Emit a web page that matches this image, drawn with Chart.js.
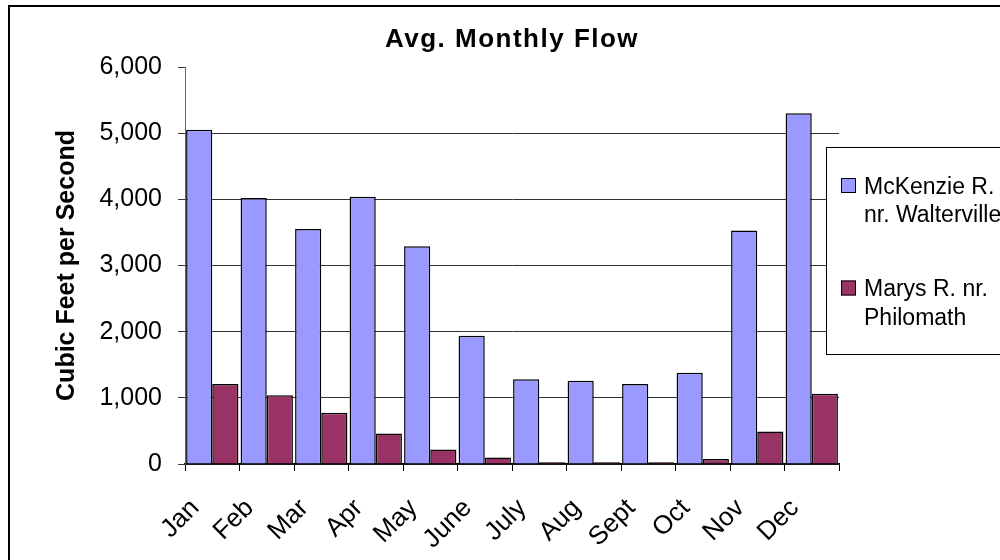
<!DOCTYPE html>
<html>
<head>
<meta charset="utf-8">
<script src="https://cdn.jsdelivr.net/npm/chart.js@4.4.0/dist/chart.umd.min.js"></script>
<style>
  html, body { margin: 0; padding: 0; background: #fff; overflow: hidden; }
  #wrap { width: 1000px; height: 560px; }
</style>
</head>
<body>
<div id="wrap"><canvas id="myChart" width="1000" height="560"></canvas></div>
<script>
// datos
const months = ['Jan', 'Feb', 'Mar', 'Apr', 'May', 'June', 'July', 'Aug', 'Sept', 'Oct', 'Nov', 'Dec'];
const mckenzie = [5050, 4020, 3550, 4040, 3290, 1940, 1280, 1260, 1210, 1380, 3530, 5300];
const marys = [1210, 1040, 775, 460, 220, 100, 25, 25, 25, 75, 490, 1060];
const yMax = 6000;
const yStep = 1000;
const seriesNames = ['McKenzie R. nr. Walterville', 'Marys R. nr. Philomath'];
const legendLines = [['McKenzie R.', 'nr. Walterville'], ['Marys R. nr.', 'Philomath']];
const chartTitle = 'Avg. Monthly Flow';
const yTitle = 'Cubic Feet per Second';

const FONT = '"Liberation Sans", Arial, sans-serif';

// marco, titulo y leyenda dibujados a mano
const framePlugin = {
  id: 'frame',
  afterDraw(chart) {
    const ctx = chart.ctx;
    ctx.save();
    ctx.strokeStyle = '#000';
    ctx.lineWidth = 2;
    ctx.strokeRect(9, 6, 1100, 700);

    ctx.fillStyle = '#000';
    ctx.font = 'bold 26px ' + FONT;
    ctx.letterSpacing = '1.5px';
    ctx.textAlign = 'center';
    ctx.textBaseline = 'alphabetic';
    ctx.fillText(chartTitle, 512, 47);
    ctx.letterSpacing = '0px';

    ctx.fillStyle = '#fff';
    ctx.fillRect(827, 148, 200, 207);
    ctx.lineWidth = 1;
    ctx.strokeStyle = '#000';
    ctx.strokeRect(826.5, 147.5, 200, 207);
    ctx.font = '23px ' + FONT;
    ctx.textAlign = 'left';
    chart.data.datasets.forEach((ds, i) => {
      const y0 = 178 + i * 102.5;
      ctx.fillStyle = ds.backgroundColor;
      ctx.fillRect(841, y0, 15, 15);
      ctx.strokeRect(841.5, y0 + 0.5, 14, 14);
      ctx.fillStyle = '#000';
      legendLines[i].forEach((t, j) => ctx.fillText(t, 864, y0 + 15.5 + j * 28.5));
    });
    ctx.restore();
  }
};

const ctx = document.getElementById('myChart').getContext('2d');
const myChart = new Chart(ctx, {
  type: 'bar',
  data: {
    labels: months,
    datasets: [{
      label: seriesNames[0],
      data: mckenzie,
      backgroundColor: '#9999FF',
      borderColor: '#000',
      borderWidth: 1.5
    }, {
      label: seriesNames[1],
      data: marys,
      backgroundColor: '#993366',
      borderColor: '#000',
      borderWidth: 1.5
    }]
  },
  options: {
    responsive: false,
    animation: false,
    layout: { padding: { top: 67, right: 161, bottom: 0, left: 0 } },
    datasets: { bar: { categoryPercentage: 0.96, barPercentage: 1 } },
    plugins: {
      legend: { display: false },
      title: { display: false },
      tooltip: { enabled: false }
    },
    scales: {
      x: {
        grid: { offset: true, drawOnChartArea: false, tickLength: 7, tickColor: '#000' },
        border: { color: '#000', width: 1.5 },
        ticks: {
          minRotation: 45, maxRotation: 45, labelOffset: -17, padding: 22,
          color: '#000', font: { family: FONT, size: 26 }
        },
        afterFit(scale) { scale.height = 96; }
      },
      y: {
        min: 0,
        max: yMax,
        ticks: { stepSize: yStep, padding: 16, color: '#000', font: { family: FONT, size: 25 } },
        grid: {
          color: c => (c.tick && c.tick.value === yMax) ? 'rgba(0,0,0,0)' : '#333',
          tickColor: '#333',
          tickLength: 7
        },
        border: { color: '#666', width: 1 },
        title: {
          display: true,
          text: yTitle,
          color: '#000',
          font: { family: FONT, size: 25, weight: 'bold' },
          padding: { top: 52, bottom: 0 }
        },
        afterFit(scale) { scale.width = 185; }
      }
    }
  },
  plugins: [framePlugin]
});
</script>
</body>
</html>
